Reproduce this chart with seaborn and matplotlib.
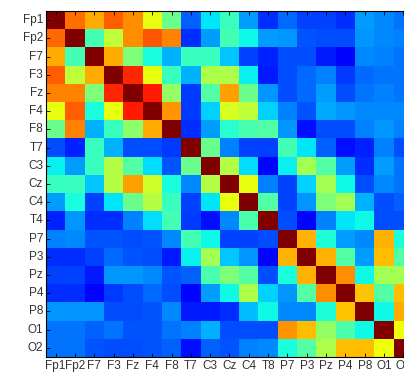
import numpy as np
import pandas as pd
import matplotlib
matplotlib.use("Agg")
import matplotlib.pyplot as plt
import seaborn as sns

row_labels = ['Fp1', 'Fp2', 'F7', 'F3', 'Fz', 'F4', 'F8', 'T7', 'C3', 'Cz',
              'C4', 'T4', 'P7', 'P3', 'Pz', 'P4', 'P8', 'O1', 'O2']
col_labels = ['Fp1', 'Fp2', 'F7', 'F3', 'Fz', 'F4', 'F8', 'T7', 'C3', 'Cz',
              'C4', 'T8', 'P7', 'P3', 'Pz', 'P4', 'P8', 'O1', 'O2']

r_Fp1 = [1.00, 0.79, 0.73, 0.81, 0.76, 0.63, 0.48, 0.22, 0.35, 0.42, 0.28, 0.17, 0.23, 0.19, 0.19, 0.17, 0.28, 0.26, 0.24]
r_Fp2 = [0.80, 1.00, 0.43, 0.58, 0.76, 0.82, 0.77, 0.17, 0.28, 0.43, 0.37, 0.28, 0.27, 0.21, 0.20, 0.20, 0.27, 0.26, 0.25]
r_F7  = [0.73, 0.43, 1.00, 0.73, 0.50, 0.38, 0.30, 0.42, 0.42, 0.32, 0.19, 0.16, 0.20, 0.20, 0.15, 0.13, 0.26, 0.25, 0.24]
r_F3  = [0.81, 0.58, 0.73, 1.00, 0.87, 0.63, 0.42, 0.30, 0.56, 0.56, 0.36, 0.15, 0.20, 0.23, 0.25, 0.18, 0.23, 0.24, 0.24]
r_Fz  = [0.77, 0.77, 0.50, 0.87, 1.00, 0.88, 0.53, 0.18, 0.45, 0.74, 0.48, 0.27, 0.20, 0.23, 0.28, 0.20, 0.24, 0.25, 0.24]
r_F4  = [0.63, 0.81, 0.38, 0.63, 0.88, 1.00, 0.75, 0.18, 0.33, 0.61, 0.58, 0.33, 0.25, 0.21, 0.29, 0.27, 0.26, 0.26, 0.26]
r_F8  = [0.48, 0.77, 0.30, 0.42, 0.52, 0.73, 1.00, 0.17, 0.28, 0.40, 0.44, 0.45, 0.27, 0.14, 0.20, 0.20, 0.25, 0.27, 0.25]
r_T7  = [0.20, 0.16, 0.42, 0.30, 0.20, 0.20, 0.18, 1.00, 0.48, 0.25, 0.19, 0.19, 0.43, 0.35, 0.22, 0.14, 0.16, 0.25, 0.20]
r_C3  = [0.36, 0.28, 0.42, 0.57, 0.45, 0.34, 0.21, 0.48, 1.00, 0.57, 0.34, 0.13, 0.36, 0.55, 0.45, 0.28, 0.17, 0.28, 0.24]
r_Cz  = [0.42, 0.42, 0.32, 0.57, 0.74, 0.60, 0.38, 0.26, 0.57, 1.00, 0.63, 0.25, 0.19, 0.33, 0.55, 0.37, 0.20, 0.26, 0.24]
r_C4  = [0.28, 0.38, 0.19, 0.35, 0.48, 0.57, 0.42, 0.19, 0.35, 0.63, 1.00, 0.45, 0.19, 0.27, 0.50, 0.55, 0.30, 0.20, 0.22]
r_T4  = [0.16, 0.27, 0.17, 0.17, 0.25, 0.34, 0.43, 0.18, 0.14, 0.26, 0.44, 1.00, 0.20, 0.13, 0.25, 0.35, 0.37, 0.20, 0.20]
r_P7  = [0.25, 0.26, 0.21, 0.21, 0.20, 0.21, 0.26, 0.43, 0.37, 0.19, 0.19, 0.20, 1.00, 0.72, 0.39, 0.28, 0.26, 0.72, 0.38]
r_P3  = [0.17, 0.17, 0.19, 0.23, 0.21, 0.20, 0.15, 0.36, 0.55, 0.32, 0.27, 0.13, 0.72, 1.00, 0.72, 0.45, 0.28, 0.71, 0.45]
r_Pz  = [0.19, 0.19, 0.15, 0.27, 0.27, 0.26, 0.21, 0.22, 0.44, 0.50, 0.45, 0.20, 0.38, 0.72, 1.00, 0.76, 0.37, 0.55, 0.55]
r_P4  = [0.17, 0.17, 0.13, 0.18, 0.20, 0.23, 0.20, 0.13, 0.28, 0.37, 0.56, 0.33, 0.27, 0.45, 0.76, 1.00, 0.70, 0.45, 0.71]
r_P8  = [0.27, 0.27, 0.27, 0.20, 0.20, 0.21, 0.26, 0.15, 0.15, 0.17, 0.31, 0.37, 0.26, 0.26, 0.39, 0.70, 1.00, 0.37, 0.73]
r_O1  = [0.24, 0.24, 0.22, 0.24, 0.21, 0.21, 0.24, 0.25, 0.30, 0.20, 0.20, 0.20, 0.75, 0.71, 0.53, 0.44, 0.37, 1.00, 0.64]
r_O2  = [0.24, 0.24, 0.21, 0.20, 0.20, 0.21, 0.22, 0.14, 0.22, 0.21, 0.25, 0.26, 0.38, 0.45, 0.56, 0.71, 0.71, 0.64, 1.00]

matrix = np.array([r_Fp1, r_Fp2, r_F7, r_F3, r_Fz, r_F4, r_F8, r_T7, r_C3, r_Cz,
                   r_C4, r_T4, r_P7, r_P3, r_Pz, r_P4, r_P8, r_O1, r_O2])
df = pd.DataFrame(matrix, index=row_labels, columns=col_labels)

W, H = 404, 382
fig = plt.figure(figsize=(W / 100, H / 100), dpi=100)
fig.patch.set_facecolor('white')
ax = fig.add_axes([46 / W, (H - 357) / H, 367 / W, 346 / H])

sns.heatmap(df, ax=ax, cmap='jet', vmin=0, vmax=1, cbar=False,
            square=False, linewidths=0)

for s in ax.spines.values():
    s.set_visible(True)
    s.set_color('black')
    s.set_linewidth(0.8)

ax.tick_params(axis='both', direction='in', length=3, width=0.6,
               top=True, right=True, labelsize=8.5, labelcolor='#333333',
               color='black', pad=2)
ax.set_xticklabels(col_labels, rotation=0, fontfamily='Liberation Sans')
ax.set_yticklabels(row_labels, rotation=0, fontfamily='Liberation Sans')
ax.set_xlabel('')
ax.set_ylabel('')

fig.savefig('out.png', dpi=100, facecolor='white')
